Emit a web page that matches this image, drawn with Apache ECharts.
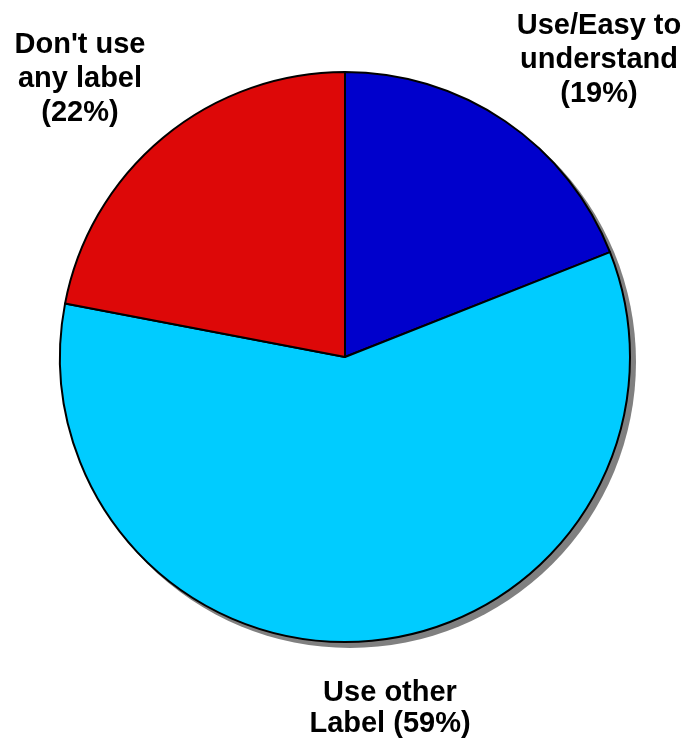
<!DOCTYPE html>
<html>
<head>
<meta charset="utf-8">
<script src="https://cdn.jsdelivr.net/npm/echarts@6/dist/echarts.min.js"></script>
<style>html,body{margin:0;padding:0;background:#fff}#c{width:689px;height:742px}</style>
</head>
<body>
<div id="c"></div>
<script>
const categories = ["Use/Easy to\nunderstand", "Use other\nLabel", "Don't use\nany label"];
const values = [19, 59, 22];
const colors = ["#0000CC", "#00CCFF", "#DD0808"];
const labelText = ["Use/Easy to\nunderstand\n(19%)", "Use other\nLabel (59%)", "Don't use\nany label\n(22%)"];

const chart = echarts.init(document.getElementById('c'));
const font = 'bold 29px "Liberation Sans", Arial, sans-serif';
chart.setOption({
  animation: false,
  series: [
    {
      type: 'pie', z: 1, silent: true, center: [350, 362], radius: 286,
      label: {show: false}, labelLine: {show: false},
      data: [{value: 1, itemStyle: {color: '#808080'}}]
    },
    {
      type: 'pie', z: 2, center: [345, 357], radius: 285, startAngle: 90, clockwise: true,
      label: {show: false}, labelLine: {show: false},
      itemStyle: {borderColor: '#000', borderWidth: 2},
      data: categories.map((c, i) => ({name: c, value: values[i], itemStyle: {color: colors[i]}}))
    }
  ],
  graphic: [
    {type: 'text', x: 599, y: 9, style: {text: labelText[0], font: font, fill: '#000', align: 'center', verticalAlign: 'top', lineHeight: 34}},
    {type: 'text', x: 80, y: 28, style: {text: labelText[2], font: font, fill: '#000', align: 'center', verticalAlign: 'top', lineHeight: 34}},
    {type: 'text', x: 390, y: 677, style: {text: labelText[1], font: font, fill: '#000', align: 'center', verticalAlign: 'top', lineHeight: 31}}
  ]
});
</script>
</body>
</html>
